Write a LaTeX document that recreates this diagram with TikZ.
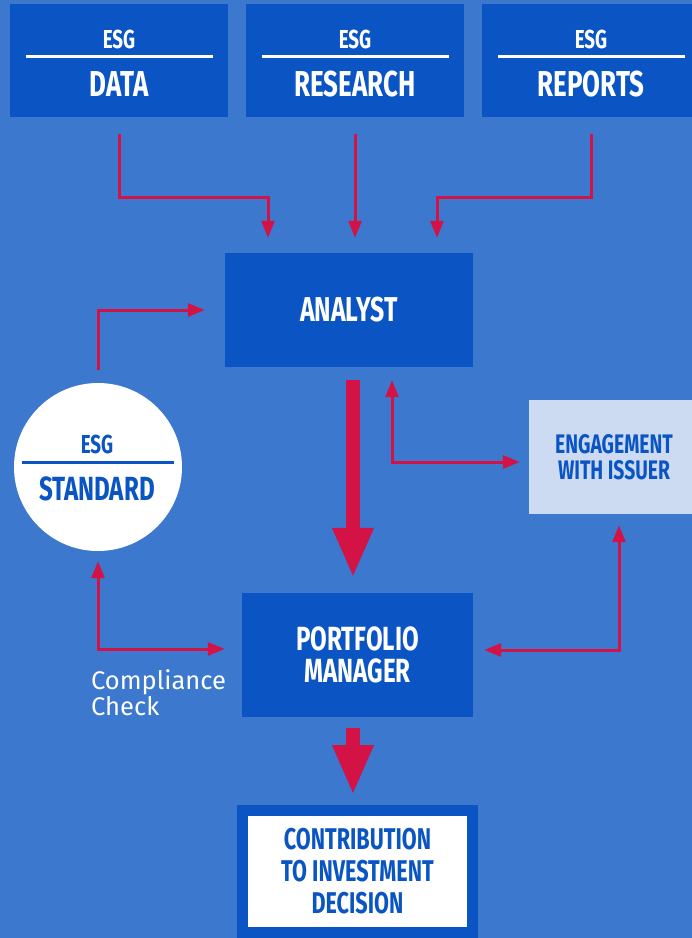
\documentclass[tikz,border=0pt]{standalone}
\usepackage{fontspec}
\newfontfamily\headfont[FakeStretch=0.72]{Fira Sans}
\newfontfamily\plainfont{Fira Sans}
\usepackage{tikz}
\usetikzlibrary{arrows.meta}
\usetikzlibrary{positioning}
\usetikzlibrary{calc}
\usepackage{xcolor}
\definecolor{bgblue}{HTML}{3B78CE}
\definecolor{boxblue}{HTML}{0A55C3}
\definecolor{flowred}{HTML}{D31245}
\definecolor{paleblue}{HTML}{CCDBF2}
\tikzset{
  % red connectors
  flow/.style={draw=flowred, line width=3pt, -{Triangle[length=17pt,width=13pt]}},
  twoway/.style={draw=flowred, line width=3pt, {Triangle[length=17pt,width=13pt]}-{Triangle[length=17pt,width=13pt]}},
  bigflow/.style={draw=flowred, line width=14pt, -{Triangle[length=50pt,width=38pt]}}
}

\begin{document}
\begin{tikzpicture}[x=1pt, y=-1pt]
    % Define styles
    \tikzstyle{source} = [rectangle, fill=boxblue, minimum width=218pt, minimum height=113pt, inner sep=0pt]
    \tikzstyle{tag} = [text=white, inner sep=0pt, anchor=base, font=\headfont\bfseries\fontsize{26}{26}\selectfont]
    \tikzstyle{title} = [text=white, inner sep=0pt, anchor=base, font=\headfont\bfseries\fontsize{36}{36}\selectfont]
    \tikzstyle{block} = [rectangle, fill=boxblue, text=white, align=center, inner sep=0pt, font=\headfont\bfseries\fontsize{33.5}{32}\selectfont]
    \tikzstyle{rulewhite} = [draw=white, line width=3pt]

    % Page
    \fill[bgblue] (0,0) rectangle (692,938);
    \useasboundingbox (0,0) rectangle (692,938);

    % Place nodes
    \foreach \x/\src/\word in {119/data/DATA, 355/research/RESEARCH, 591/reports/REPORTS} {
        \node [source] (\src) at (\x,60.5) {};
        \node [tag] (\src-esg) at (\x,48) {ESG};
        \draw [rulewhite] (\x-93.5,56.5) -- (\x+93.5,56.5);
        \node [title] (\src-name) at (\x,96) {\word};
    }
    \node [block, minimum width=248pt, minimum height=114pt, font=\headfont\bfseries\fontsize{34.5}{32}\selectfont] (analyst) at (349,310) {ANALYST};
    \node [block, minimum width=231pt, minimum height=124pt] (pm) at (357.5,655) {PORTFOLIO\\MANAGER};
    \node [block, fill=paleblue, text=boxblue, minimum width=170pt, minimum height=114pt,
           font=\headfont\bfseries\fontsize{26.8}{26}\selectfont] (engage) at (614,457) {ENGAGEMENT\\WITH ISSUER};
    \node [block, fill=white, draw=boxblue, line width=11pt, text=boxblue, minimum width=230.5pt, minimum height=122pt,
           font=\headfont\bfseries\fontsize{30}{32}\selectfont] (decision) at (357.5,871.5) {CONTRIBUTION\\TO INVESTMENT\\DECISION};
    \node [circle, fill=white, minimum size=168pt, inner sep=0pt] (standard) at (98,467) {};
    \node [tag, text=boxblue] (standard-esg) at (97,453) {ESG};
    \draw [boxblue, line width=3pt] (22,462) -- (174,462);
    \node [title, text=boxblue, font=\headfont\bfseries\fontsize{33.5}{32}\selectfont] (standard-name) at (97,500) {STANDARD};
    \node [anchor=north west, align=left, inner sep=0pt, text=white,
           font=\plainfont\fontsize{25.5}{26}\selectfont] (compliance) at (91,669) {Compliance\\Check};

    % Draw edges
    \draw [flow, shorten <=17pt, shorten >=15pt] (data.south) -- ++(0,80) -| ([xshift=-81pt]analyst.north);
    \draw [flow, shorten <=17pt, shorten >=15pt] (research.south) -- (research.south |- analyst.north);
    \draw [flow, shorten <=17pt, shorten >=15pt] (reports.south) -- ++(0,80) -| ([xshift=88pt]analyst.north);
    \draw [flow, shorten <=13pt, shorten >=20pt] (standard.north) |- (analyst.west);
    \draw [bigflow, shorten <=13pt, shorten >=15pt] ([xshift=4pt]analyst.south) -- ([xshift=4pt]analyst.south |- pm.north);
    \draw [twoway, shorten <=13pt, shorten >=9pt] ([xshift=43pt]analyst.south) |- ([yshift=-5pt]engage.west);
    \draw [twoway, shorten <=11pt, shorten >=11pt] ([xshift=5pt]engage.south) |- ([yshift=5pt]pm.east);
    \draw [twoway, shorten <=10pt, shorten >=17pt] (standard.south) |- ([yshift=6pt]pm.west);
    \draw [bigflow, shorten <=11pt, shorten >=10pt] ([xshift=-4.5pt]pm.south) -- ([xshift=-4.5pt]pm.south |- decision.north);
\end{tikzpicture}
\end{document}
